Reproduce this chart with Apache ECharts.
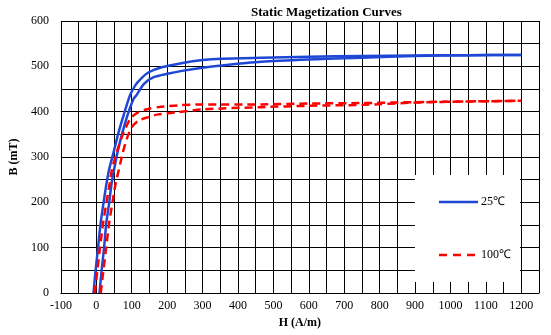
<!DOCTYPE html>
<html>
<head>
<meta charset="utf-8">
<script src="https://cdn.jsdelivr.net/npm/echarts@6/dist/echarts.min.js"></script>
<style>html,body{margin:0;padding:0;background:#fff;}#c{width:551px;height:335px;}</style>
</head>
<body>
<div id="c"></div>
<script>
// ---- data ----
const titleText = 'Static Magetization Curves';
const xName = 'H (A/m)';
const yName = 'B (mT)';
const seriesNames = ['25℃', '100℃'];

// 25°C, descending (left) branch
const b25UpperH = [-8, -2, 5, 12, 20, 28, 36, 49, 63, 77, 95, 110, 125, 148, 185, 240, 300, 354, 466, 600, 750, 900, 1050, 1200];
const b25UpperB = [0, 50, 101, 153, 197, 238, 272, 311, 355, 392, 436, 458, 472, 487, 498, 507, 514, 517, 519, 521, 523, 524, 524.5, 525];
// 25°C, ascending (right) branch
const b25LowerH = [9, 15, 22, 28, 36, 43, 47, 60, 74, 88, 105, 114, 134, 162, 204, 242, 300, 354, 466, 600, 750, 900, 1050, 1200];
const b25LowerB = [0, 50, 101, 153, 197, 241, 259, 311, 355, 392, 428, 437, 461, 476, 484, 490, 497, 502, 510, 515, 519, 523, 524.5, 525];
// 100°C, descending (left) branch
const b100UpperH = [-4.5, 3, 10.5, 19, 28, 37.6, 44, 58, 72, 88, 100, 119, 147, 175, 232, 300, 466, 600, 750, 900, 1050, 1200];
const b100UpperB = [0, 50, 101, 153, 197, 241, 272, 311, 344, 373, 388, 399, 406, 410, 414, 416, 416, 418, 419, 421, 422.5, 424];
// 100°C, ascending (right) branch
const b100LowerH = [12.5, 20, 28, 36, 45, 54.5, 63, 74, 86, 100, 119, 147, 175, 232, 300, 466, 600, 750, 900, 1050, 1200];
const b100LowerB = [0, 50, 101, 153, 197, 241, 270, 307, 340, 366, 380, 388, 394, 399, 405, 410, 413, 415, 420, 422.5, 424];

const xMin = -100, xMax = 1250, xStep = 50, xLabelStep = 100, xLabelMax = 1200;
const yMin = 0, yMax = 600, yStep = 50, yLabelStep = 100;

// ---- chart ----
const zip = (h, b) => h.map((v, i) => [v, b[i]]);
const FONT = "'Liberation Serif', 'Times New Roman', serif";
const BLUE = '#1f47d6';
const RED = '#ff0000';

const chart = echarts.init(document.getElementById('c'), null, {renderer: 'canvas'});

const blueStyle = {color: BLUE, width: 2.5, type: 'solid'};
const redStyle = {color: RED, width: 2.5, type: [8, 5]};

function mk(name, data, style, color) {
  return {
    name: name, type: 'line', data: data, showSymbol: false, symbol: 'none',
    smooth: 0.25, lineStyle: style, itemStyle: {color: color}, z: 2, animation: false
  };
}

chart.setOption({
  animation: false,
  backgroundColor: '#fff',
  title: {
    text: titleText, left: 246, top: 1,
    textStyle: {fontFamily: FONT, fontSize: 13, fontWeight: 'bold', color: '#000'}
  },
  grid: {left: 58, top: 21, right: 12, bottom: 42, containLabel: false},
  xAxis: {
    type: 'value', min: xMin, max: xMax, interval: xStep,
    name: xName, nameLocation: 'middle', nameGap: 22,
    nameTextStyle: {fontFamily: FONT, fontSize: 12, fontWeight: 'bold', color: '#000'},
    axisLine: {show: true, lineStyle: {color: '#000', width: 1}},
    axisTick: {show: false},
    splitLine: {show: true, lineStyle: {color: '#000', width: 1}},
    axisLabel: {
      interval: 0, margin: 7, color: '#000', fontFamily: FONT, fontSize: 12,
      formatter: v => (v % xLabelStep === 0 && v <= xLabelMax) ? String(v) : ''
    }
  },
  yAxis: {
    type: 'value', min: yMin, max: yMax, interval: yStep,
    name: yName, nameLocation: 'middle', nameGap: 31, nameRotate: 90,
    nameTextStyle: {fontFamily: FONT, fontSize: 12, fontWeight: 'bold', color: '#000'},
    axisLine: {show: true, lineStyle: {color: '#000', width: 1}},
    axisTick: {show: false},
    splitLine: {show: true, lineStyle: {color: '#000', width: 1}},
    axisLabel: {
      margin: 12, color: '#000', fontFamily: FONT, fontSize: 12,
      formatter: v => (v % yLabelStep === 0) ? String(v) : ''
    }
  },
  graphic: [
    {type: 'rect', z: 10, silent: true, shape: {x: 415, y: 175, width: 105, height: 107}, style: {fill: '#fff'}},
    {type: 'line', z: 11, silent: true, shape: {x1: 439, y1: 202, x2: 478, y2: 202}, style: {stroke: BLUE, lineWidth: 2.5}},
    {type: 'text', z: 11, silent: true, x: 481, y: 202, style: {text: seriesNames[0], fill: '#000', font: "12px " + FONT, verticalAlign: 'middle', align: 'left'}},
    {type: 'line', z: 11, silent: true, shape: {x1: 439, y1: 255, x2: 476, y2: 255}, style: {stroke: RED, lineWidth: 2.5, lineDash: [8, 6]}},
    {type: 'text', z: 11, silent: true, x: 481, y: 255, style: {text: seriesNames[1], fill: '#000', font: "12px " + FONT, verticalAlign: 'middle', align: 'left'}}
  ],
  series: [
    mk(seriesNames[0], zip(b25UpperH, b25UpperB), blueStyle, BLUE),
    mk(seriesNames[0], zip(b25LowerH, b25LowerB), blueStyle, BLUE),
    mk(seriesNames[1], zip(b100UpperH, b100UpperB), redStyle, RED),
    mk(seriesNames[1], zip(b100LowerH, b100LowerB), redStyle, RED)
  ]
});
</script>
</body>
</html>
